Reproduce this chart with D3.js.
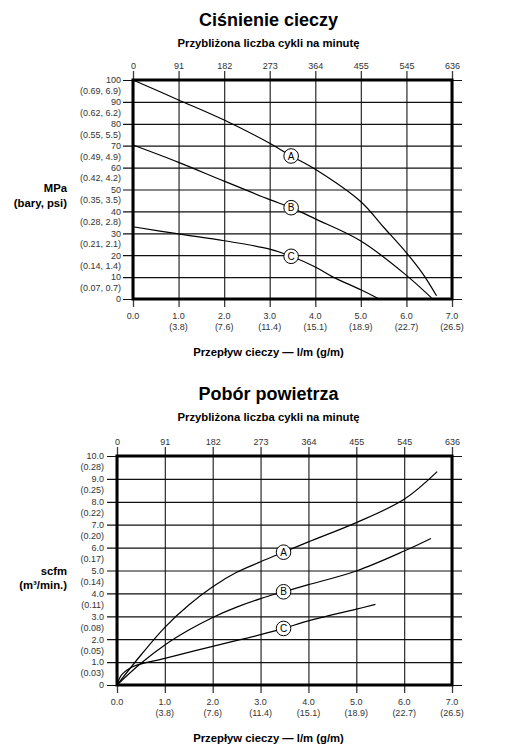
<!DOCTYPE html>
<html><head><meta charset="utf-8">
<script src="https://cdn.jsdelivr.net/npm/d3@7"></script>
<style>
html,body{margin:0;padding:0;background:#fff;}
svg{display:block;font-family:"Liberation Sans",Arial,sans-serif;}
</style></head>
<body>
<svg id="c" width="509" height="755"></svg>
<script>
// ---------- data ----------
const cycleTicks = ["0","91","182","273","364","455","545","636"];
const flowTicks = ["0.0","1.0","2.0","3.0","4.0","5.0","6.0","7.0"];
const flowSub = ["","(3.8)","(7.6)","(11.4)","(15.1)","(18.9)","(22.7)","(26.5)"];

const pressTicks = [0,10,20,30,40,50,60,70,80,90,100];
const pressSub = ["","(0.07, 0.7)","(0.14, 1.4)","(0.21, 2.1)","(0.28, 2.8)","(0.35, 3.5)","(0.42, 4.2)","(0.49, 4.9)","(0.55, 5.5)","(0.62, 6.2)","(0.69, 6.9)"];

const airTicks = [0,1,2,3,4,5,6,7,8,9,10];
const airTickLabels = ["0","1.0","2.0","3.0","4.0","5.0","6.0","7.0","8.0","9.0","10.0"];
const airSub = ["","(0.03)","(0.05)","(0.08)","(0.11)","(0.14)","(0.17)","(0.20)","(0.22)","(0.25)","(0.28)"];

// Fluid pressure curves [flow, pressure]
const pressA = [[0,100],[1,90.9],[2,81.7],[3,71.1],[3.47,65.3],[4,59.2],[5,44.4],[5.49,33],[6,21.1],[6.36,11.5],[6.66,1.5]];
const pressB = [[0,70.3],[1,62.4],[2,53.8],[3,45.4],[3.47,41.7],[4,36.6],[5,26.5],[6,10.8],[6.55,0.5]];
const pressC = [[0,33],[1,29.7],[2,26.6],[3,22.8],[3.47,19.5],[4,14.6],[4.39,10],[5,4.2],[5.38,0.2]];

// Air consumption curves [flow, scfm]
const airA = [[0,0],[0.5,1.31],[1,2.52],[1.5,3.49],[2,4.29],[2.5,4.92],[3,5.38],[3.48,5.8],[4,6.25],[5,7.09],[6,8.11],[6.69,9.32]];
const airB = [[0,0],[0.5,0.95],[1,1.75],[1.5,2.4],[2,2.95],[2.5,3.4],[3,3.77],[3.48,4.07],[4,4.38],[5,4.98],[6,5.85],[6.56,6.4]];
const airC = [[0,0],[0.1,0.45],[0.33,0.8],[1,1.16],[2,1.69],[3,2.2],[3.48,2.47],[4,2.8],[5,3.31],[5.4,3.52]];

const seriesNames = ["A","B","C"];
const labelFlowTop = 3.47, labelFlowBottom = 3.48;

// ---------- drawing ----------
const svg = d3.select("#c");

function drawChart(cfg){
  const g = svg.append("g");
  const x = d3.scaleLinear().domain([0,7]).range([cfg.x0, cfg.x1]);
  const y = d3.scaleLinear().domain([0,cfg.ymax]).range([cfg.y0, cfg.y1]);

  // titles
  g.append("text").attr("x",268.5).attr("y",cfg.titleY).attr("text-anchor","middle")
    .attr("font-size",18).attr("font-weight","bold").attr("fill","#000").text(cfg.title);
  g.append("text").attr("x",268.5).attr("y",cfg.titleY+21).attr("text-anchor","middle")
    .attr("font-size",11.3).attr("font-weight","bold").attr("fill","#000").text("Przybliżona liczba cykli na minutę");

  // top axis (cycles) with vertical gridlines
  const topAxisY = cfg.y1 - 9;
  const ax = g.append("g").attr("transform",`translate(0,${topAxisY})`)
    .call(d3.axisTop(x).tickValues(d3.range(8)).tickFormat((d,i)=>cycleTicks[i])
      .tickSize(-(cfg.y0 + 8 - topAxisY)).tickPadding(2));
  ax.select(".domain").remove();
  ax.selectAll("line").attr("stroke","#3a3a3a").attr("stroke-width",1.3);
  ax.selectAll("text").attr("font-size",9).attr("fill","#333").attr("font-family","Liberation Sans, Arial, sans-serif");

  // left axis with horizontal gridlines
  const leftX = cfg.x0 - 10;
  const ay = g.append("g").attr("transform",`translate(${leftX},0)`)
    .call(d3.axisLeft(y).tickValues(cfg.yTicks).tickFormat((d,i)=>cfg.yLabels[i])
      .tickSize(-(cfg.x1 + 10 - leftX)).tickPadding(cfg.pad));
  ay.select(".domain").remove();
  ay.selectAll("line").attr("stroke","#111").attr("stroke-width",1.2);
  ay.selectAll("text").attr("font-size",9).attr("fill","#333").attr("font-family","Liberation Sans, Arial, sans-serif");

  // sub labels between ticks
  g.selectAll(".sub").data(cfg.yTicks.filter((d,i)=>cfg.ySub[i]!=="")).enter().append("text")
    .attr("x", leftX - cfg.pad).attr("y", d=>y(d - cfg.ymax/20)).attr("dy","0.32em")
    .attr("text-anchor","end").attr("font-size",9).attr("fill","#333")
    .text(d=>cfg.ySub[cfg.yTicks.indexOf(d)]);

  // bottom labels
  g.selectAll(".bl").data(d3.range(8)).enter().append("text")
    .attr("x",d=>x(d)).attr("y",cfg.y0+20).attr("text-anchor","middle")
    .attr("font-size",9).attr("fill","#333").text(d=>flowTicks[d]);
  g.selectAll(".bl2").data(d3.range(1,8)).enter().append("text")
    .attr("x",d=>x(d)).attr("y",cfg.y0+31).attr("text-anchor","middle")
    .attr("font-size",9).attr("fill","#333").text(d=>flowSub[d]);

  // x title
  g.append("text").attr("x",268.5).attr("y",cfg.y0+57).attr("text-anchor","middle")
    .attr("font-size",11.3).attr("font-weight","bold").attr("fill","#000").text("Przepływ cieczy — l/m (g/m)");

  // y title
  g.append("text").attr("x",67).attr("y",cfg.yt1).attr("text-anchor","end")
    .attr("font-size",11.3).attr("font-weight","bold").attr("fill","#000").text(cfg.ytitle1);
  g.append("text").attr("x",67).attr("y",cfg.yt2).attr("text-anchor","end")
    .attr("font-size",11.3).attr("font-weight","bold").attr("fill","#000").text(cfg.ytitle2);

  // frame
  g.append("rect").attr("x",cfg.x0).attr("y",cfg.y1).attr("width",cfg.x1-cfg.x0).attr("height",cfg.y0-cfg.y1)
    .attr("fill","none").attr("stroke","#000").attr("stroke-width",3);

  // curves
  const line = d3.line().x(d=>x(d[0])).y(d=>y(d[1])).curve(d3.curveCatmullRom.alpha(0.5));
  cfg.series.forEach((s,i)=>{
    g.append("path").datum(s).attr("d",line).attr("fill","none").attr("stroke","#000").attr("stroke-width",1.2);
  });
  // labels
  cfg.series.forEach((s,i)=>{
    const p = s.find(d=>d[0]===cfg.labelFlow);
    const cx = x(p[0]), cy = y(p[1]);
    g.append("circle").attr("cx",cx).attr("cy",cy).attr("r",7.3)
      .attr("fill","#fff").attr("stroke","#000").attr("stroke-width",1);
    g.append("text").attr("x",cx).attr("y",cy).attr("dy","0.36em").attr("text-anchor","middle")
      .attr("font-size",10).attr("fill","#000").text(seriesNames[i]);
  });
}

drawChart({
  title:"Ciśnienie cieczy", titleY:26,
  x0:133, x1:452, y0:299, y1:80, ymax:100,
  yTicks:pressTicks, yLabels:pressTicks.map(String), ySub:pressSub, pad:2,
  ytitle1:"MPa", ytitle2:"(bary, psi)", yt1:192, yt2:207,
  series:[pressA,pressB,pressC], labelFlow:labelFlowTop
});

drawChart({
  title:"Pobór powietrza", titleY:400,
  x0:117, x1:452, y0:685, y1:456, ymax:10,
  yTicks:airTicks, yLabels:airTickLabels, ySub:airSub, pad:3,
  ytitle1:"scfm", ytitle2:"(m³/min.)", yt1:575, yt2:589,
  series:[airA,airB,airC], labelFlow:labelFlowBottom
});
</script>
</body></html>
